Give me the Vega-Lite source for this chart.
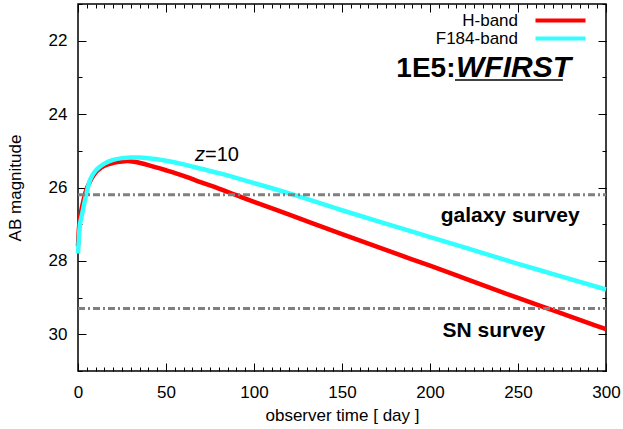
{
  "$schema": "https://vega.github.io/schema/vega-lite/v6.json",
  "width": 528,
  "height": 367,
  "autosize": {"type": "none"},
  "padding": {"left": 78, "top": 4, "right": 17, "bottom": 58},
  "background": "white",
  "config": {
    "font": "Liberation Sans",
    "view": {"stroke": "black", "strokeWidth": 1.5},
    "axis": {
      "domain": false,
      "grid": false,
      "labelFlush": false,
      "tickColor": "black",
      "tickWidth": 1,
      "labelFont": "Liberation Sans",
      "labelFontSize": 17,
      "labelColor": "black",
      "titleFont": "Liberation Sans",
      "titleFontSize": 17,
      "titleFontWeight": "normal",
      "titleColor": "black"
    }
  },
  "datasets": {
    "curves": [
      {"band": "H-band", "t": 0, "mag": 27.6},
      {"band": "H-band", "t": 0.5, "mag": 27.15},
      {"band": "H-band", "t": 1, "mag": 26.88},
      {"band": "H-band", "t": 2, "mag": 26.6},
      {"band": "H-band", "t": 3, "mag": 26.38},
      {"band": "H-band", "t": 4, "mag": 26.18},
      {"band": "H-band", "t": 5, "mag": 26.03},
      {"band": "H-band", "t": 6, "mag": 25.92},
      {"band": "H-band", "t": 8, "mag": 25.73},
      {"band": "H-band", "t": 10, "mag": 25.59},
      {"band": "H-band", "t": 12, "mag": 25.5},
      {"band": "H-band", "t": 15, "mag": 25.41},
      {"band": "H-band", "t": 20, "mag": 25.33},
      {"band": "H-band", "t": 25, "mag": 25.29},
      {"band": "H-band", "t": 28, "mag": 25.28},
      {"band": "H-band", "t": 32, "mag": 25.3},
      {"band": "H-band", "t": 36, "mag": 25.34},
      {"band": "H-band", "t": 40, "mag": 25.39},
      {"band": "H-band", "t": 45, "mag": 25.46},
      {"band": "H-band", "t": 50, "mag": 25.53},
      {"band": "H-band", "t": 60, "mag": 25.68},
      {"band": "H-band", "t": 70, "mag": 25.86},
      {"band": "H-band", "t": 80, "mag": 26.03},
      {"band": "H-band", "t": 90, "mag": 26.21},
      {"band": "H-band", "t": 100, "mag": 26.39},
      {"band": "H-band", "t": 120, "mag": 26.74},
      {"band": "H-band", "t": 150, "mag": 27.27},
      {"band": "H-band", "t": 180, "mag": 27.79},
      {"band": "H-band", "t": 200, "mag": 28.13},
      {"band": "H-band", "t": 220, "mag": 28.48},
      {"band": "H-band", "t": 250, "mag": 29.01},
      {"band": "H-band", "t": 270, "mag": 29.35},
      {"band": "H-band", "t": 300, "mag": 29.86},
      {"band": "F184-band", "t": 0, "mag": 27.8},
      {"band": "F184-band", "t": 0.5, "mag": 27.38},
      {"band": "F184-band", "t": 1, "mag": 27.05},
      {"band": "F184-band", "t": 2, "mag": 26.8},
      {"band": "F184-band", "t": 3, "mag": 26.57},
      {"band": "F184-band", "t": 4, "mag": 26.33},
      {"band": "F184-band", "t": 5, "mag": 26.12},
      {"band": "F184-band", "t": 6, "mag": 25.93},
      {"band": "F184-band", "t": 7, "mag": 25.78},
      {"band": "F184-band", "t": 8, "mag": 25.68},
      {"band": "F184-band", "t": 10, "mag": 25.54},
      {"band": "F184-band", "t": 12, "mag": 25.45},
      {"band": "F184-band", "t": 15, "mag": 25.35},
      {"band": "F184-band", "t": 20, "mag": 25.25},
      {"band": "F184-band", "t": 25, "mag": 25.2},
      {"band": "F184-band", "t": 30, "mag": 25.18},
      {"band": "F184-band", "t": 35, "mag": 25.18},
      {"band": "F184-band", "t": 40, "mag": 25.2},
      {"band": "F184-band", "t": 45, "mag": 25.23},
      {"band": "F184-band", "t": 50, "mag": 25.27},
      {"band": "F184-band", "t": 60, "mag": 25.37},
      {"band": "F184-band", "t": 70, "mag": 25.49},
      {"band": "F184-band", "t": 80, "mag": 25.61},
      {"band": "F184-band", "t": 100, "mag": 25.88},
      {"band": "F184-band", "t": 120, "mag": 26.16},
      {"band": "F184-band", "t": 150, "mag": 26.62},
      {"band": "F184-band", "t": 180, "mag": 27.06},
      {"band": "F184-band", "t": 200, "mag": 27.35},
      {"band": "F184-band", "t": 220, "mag": 27.64},
      {"band": "F184-band", "t": 250, "mag": 28.08},
      {"band": "F184-band", "t": 270, "mag": 28.36},
      {"band": "F184-band", "t": 300, "mag": 28.78}
    ],
    "limits": [
      {"survey": "galaxy survey", "t0": 0, "t1": 300, "mag": 26.2},
      {"survey": "SN survey", "t0": 0, "t1": 300, "mag": 29.3}
    ],
    "surveyLabels": [
      {"text": "galaxy survey", "t": 285, "mag": 26.95},
      {"text": "SN survey", "t": 265.5, "mag": 30.08}
    ],
    "titleLead": [{"text": "1E5:", "t": 214.5, "mag": 23.0}],
    "titleMain": [{"text": "WFIRST", "t": 214.8, "mag": 23.0}],
    "titleUnderline": [{"t0": 214.2, "t1": 275.5, "mag": 23.07}],
    "zItalic": [{"text": "z", "t": 66.5, "mag": 25.29}],
    "zRest": [{"text": "=10", "t": 72.2, "mag": 25.29}]
  },
  "layer": [
    {
      "data": {"name": "curves"},
      "transform": [{"filter": "datum.band === 'H-band'"}],
      "mark": {"type": "line", "strokeWidth": 4.5, "interpolate": "monotone"},
      "encoding": {
        "x": {"field": "t", "type": "quantitative",
          "scale": {"domain": [0, 300], "nice": false, "zero": false},
          "axis": {"orient": "bottom", "values": [0, 50, 100, 150, 200, 250, 300], "tickSize": -8, "labelPadding": 21, "title": "observer time [ day ]", "titlePadding": 7}},
        "y": {"field": "mag", "type": "quantitative",
          "scale": {"domain": [21, 31], "reverse": true, "nice": false, "zero": false},
          "axis": {"orient": "left", "values": [22, 24, 26, 28, 30], "tickSize": -8, "labelPadding": 19, "title": "AB magnitude", "titlePadding": 24}},
        "color": {"field": "band", "type": "nominal",
          "scale": {"domain": ["H-band", "F184-band"], "range": ["#ff0000", "#33ffff"]},
          "legend": {
            "title": null,
            "orient": "none",
            "legendX": 474,
            "legendY": 8,
            "symbolType": "M-5,0L5,0",
            "symbolSize": 100,
            "symbolStrokeWidth": 4,
            "symbolOpacity": 1,
            "labelAlign": "right",
            "labelOffset": -51,
            "labelFont": "Liberation Sans",
            "labelFontSize": 17,
            "labelColor": "black",
            "padding": 0,
            "rowPadding": 0
          }}
      }
    },
    {
      "data": {"name": "curves"},
      "transform": [{"filter": "datum.band === 'F184-band'"}],
      "mark": {"type": "line", "strokeWidth": 4.5, "interpolate": "monotone"},
      "encoding": {
        "x": {"field": "t", "type": "quantitative",
          "scale": {"domain": [0, 300], "nice": false, "zero": false},
          "axis": {"orient": "bottom", "tickCount": 60, "labels": false, "tickSize": -4, "title": null}},
        "y": {"field": "mag", "type": "quantitative",
          "scale": {"domain": [21, 31], "reverse": true, "nice": false, "zero": false},
          "axis": {"orient": "left", "tickCount": 10, "labels": false, "tickSize": -4, "title": null}},
        "color": {"field": "band", "type": "nominal",
          "scale": {"domain": ["H-band", "F184-band"], "range": ["#ff0000", "#33ffff"]},
          "legend": null}
      }
    },
    {
      "data": {"name": "limits"},
      "mark": {"type": "rule", "color": "#808080", "strokeWidth": 3, "strokeDash": [7, 3, 2, 3]},
      "encoding": {
        "x": {"field": "t0", "type": "quantitative",
          "scale": {"domain": [0, 300], "nice": false, "zero": false},
          "axis": {"orient": "top", "values": [0, 50, 100, 150, 200, 250, 300], "labels": false, "tickSize": -8, "title": null}},
        "x2": {"field": "t1"},
        "y": {"field": "mag", "type": "quantitative",
          "scale": {"domain": [21, 31], "reverse": true, "nice": false, "zero": false},
          "axis": {"orient": "right", "values": [22, 24, 26, 28, 30], "labels": false, "tickSize": -8, "title": null}}
      }
    },
    {
      "data": {"name": "surveyLabels"},
      "mark": {"type": "text", "font": "Liberation Sans", "fontWeight": "bold", "fontSize": 21, "align": "right", "baseline": "alphabetic", "color": "black"},
      "encoding": {
        "x": {"field": "t", "type": "quantitative",
          "scale": {"domain": [0, 300], "nice": false, "zero": false},
          "axis": {"orient": "top", "tickCount": 60, "labels": false, "tickSize": -4, "title": null}},
        "y": {"field": "mag", "type": "quantitative",
          "scale": {"domain": [21, 31], "reverse": true, "nice": false, "zero": false},
          "axis": {"orient": "right", "tickCount": 10, "labels": false, "tickSize": -4, "title": null}},
        "text": {"field": "text"}
      }
    },
    {
      "data": {"name": "titleLead"},
      "mark": {"type": "text", "font": "Liberation Sans", "fontWeight": "bold", "fontSize": 28, "align": "right", "baseline": "alphabetic", "color": "black"},
      "encoding": {
        "x": {"field": "t", "type": "quantitative", "scale": {"domain": [0, 300], "nice": false, "zero": false}, "axis": null},
        "y": {"field": "mag", "type": "quantitative", "scale": {"domain": [21, 31], "reverse": true, "nice": false, "zero": false}, "axis": null},
        "text": {"field": "text"}
      }
    },
    {
      "data": {"name": "titleMain"},
      "mark": {"type": "text", "font": "Liberation Sans", "fontWeight": "bold", "fontStyle": "italic", "fontSize": 30, "align": "left", "baseline": "alphabetic", "color": "black"},
      "encoding": {
        "x": {"field": "t", "type": "quantitative", "scale": {"domain": [0, 300], "nice": false, "zero": false}, "axis": null},
        "y": {"field": "mag", "type": "quantitative", "scale": {"domain": [21, 31], "reverse": true, "nice": false, "zero": false}, "axis": null},
        "text": {"field": "text"}
      }
    },
    {
      "data": {"name": "titleUnderline"},
      "mark": {"type": "rule", "color": "black", "strokeWidth": 1.5},
      "encoding": {
        "x": {"field": "t0", "type": "quantitative", "scale": {"domain": [0, 300], "nice": false, "zero": false}, "axis": null},
        "x2": {"field": "t1"},
        "y": {"field": "mag", "type": "quantitative", "scale": {"domain": [21, 31], "reverse": true, "nice": false, "zero": false}, "axis": null}
      }
    },
    {
      "data": {"name": "zItalic"},
      "mark": {"type": "text", "font": "Liberation Sans", "fontStyle": "italic", "fontSize": 20, "align": "left", "baseline": "alphabetic", "color": "black"},
      "encoding": {
        "x": {"field": "t", "type": "quantitative", "scale": {"domain": [0, 300], "nice": false, "zero": false}, "axis": null},
        "y": {"field": "mag", "type": "quantitative", "scale": {"domain": [21, 31], "reverse": true, "nice": false, "zero": false}, "axis": null},
        "text": {"field": "text"}
      }
    },
    {
      "data": {"name": "zRest"},
      "mark": {"type": "text", "font": "Liberation Sans", "fontSize": 20, "align": "left", "baseline": "alphabetic", "color": "black"},
      "encoding": {
        "x": {"field": "t", "type": "quantitative", "scale": {"domain": [0, 300], "nice": false, "zero": false}, "axis": null},
        "y": {"field": "mag", "type": "quantitative", "scale": {"domain": [21, 31], "reverse": true, "nice": false, "zero": false}, "axis": null},
        "text": {"field": "text"}
      }
    }
  ],
  "resolve": {"axis": {"x": "independent", "y": "independent"}}
}
